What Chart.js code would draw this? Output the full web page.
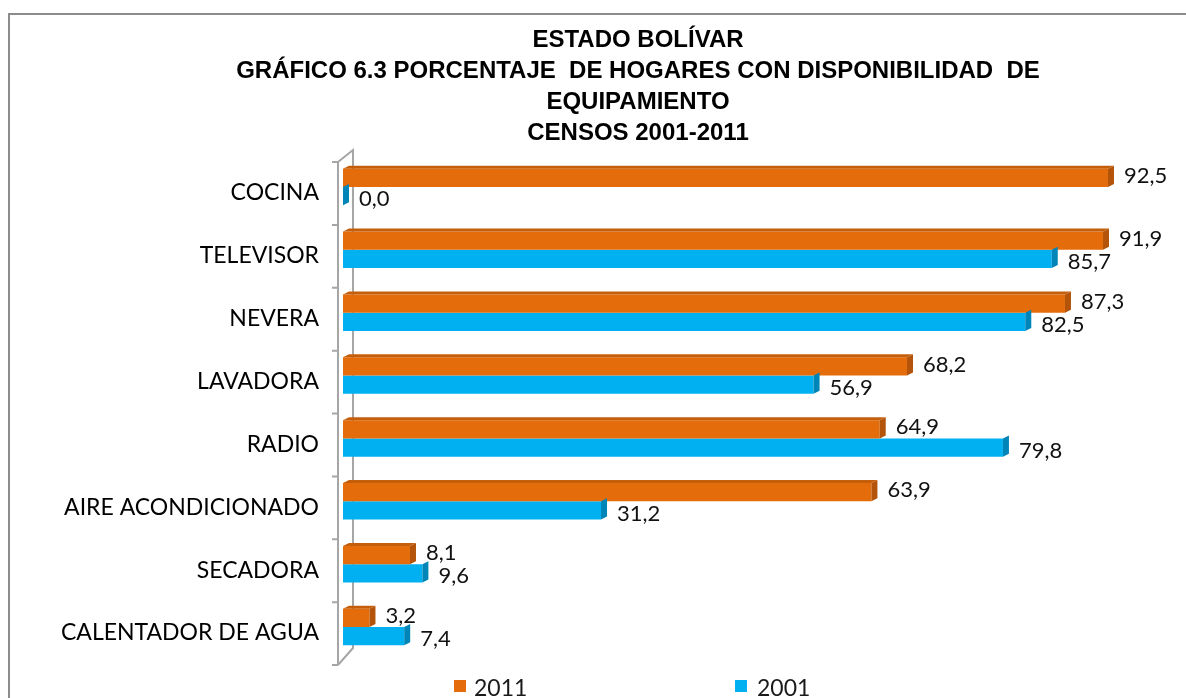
<!DOCTYPE html>
<html>
<head>
<meta charset="utf-8">
<script src="https://cdn.jsdelivr.net/npm/chart.js@4.4.1/dist/chart.umd.min.js"></script>
<style>
  html, body { margin: 0; padding: 0; background: #fff; overflow: hidden; }
  #marco { position: absolute; left: 8px; top: 13px; width: 1400px; height: 900px;
           border-top: 2px solid #8c8c8c; border-left: 2px solid #8c8c8c; }
  #grafico { position: absolute; left: 0; top: 0; }
  #titulo { position: absolute; left: 0; top: 23px; width: 1276px; text-align: center;
            font-family: 'Liberation Sans', Arial, sans-serif; font-weight: bold; font-size: 24px;
            line-height: 31px; color: #000; white-space: pre; }
  .leyenda { position: absolute; top: 672px; font-family: Lato, sans-serif; font-size: 23px;
             line-height: 30px; color: #1a1a1a; white-space: nowrap; }
  .cuadro { position: absolute; width: 12px; height: 12px; top: 680px; }
</style>
</head>
<body>
<div id="marco"></div>
<canvas id="grafico" width="1186" height="698"></canvas>
<div id="titulo"></div>
<div class="cuadro" style="left:454px;background:#E46C0A"></div>
<div class="leyenda" style="left:474px">2011</div>
<div class="cuadro" style="left:735px;background:#00B0F0"></div>
<div class="leyenda" style="left:757px">2001</div>
<script>
// datos del grafico 6.3
const categorias = ['COCINA', 'TELEVISOR', 'NEVERA', 'LAVADORA', 'RADIO',
  'AIRE ACONDICIONADO', 'SECADORA', 'CALENTADOR DE AGUA'];
const censo2011 = [92.5, 91.9, 87.3, 68.2, 64.9, 63.9, 8.1, 3.2];
const censo2001 = [0.0, 85.7, 82.5, 56.9, 79.8, 31.2, 9.6, 7.4];
const titulo = ['ESTADO BOLÍVAR',
  'GRÁFICO 6.3 PORCENTAJE  DE HOGARES CON DISPONIBILIDAD  DE',
  'EQUIPAMIENTO',
  'CENSOS 2001-2011'];

document.getElementById('titulo').textContent = titulo.join('\n');

const colores = { naranja: '#E46C0A', naranjaLado: '#B4540A', azul: '#00B0F0', azulLado: '#0085B8' };

// pared lateral y caras 3D de las barras
const efecto3D = {
  id: 'efecto3D',
  beforeDatasetsDraw(chart) {
    const { ctx, chartArea: a } = chart;
    const n = categorias.length;
    const alto = (a.bottom - a.top) / n;
    ctx.save();
    ctx.strokeStyle = '#a6a6a6';
    ctx.lineWidth = 2;
    ctx.beginPath();
    ctx.moveTo(a.left - 5, a.bottom + 6.5);
    ctx.lineTo(a.left - 5, a.top + 6.5);
    ctx.lineTo(a.left + 10, a.top - 5.5);
    ctx.lineTo(a.left + 10, a.bottom - 10.5);
    ctx.lineTo(a.left - 5, a.bottom + 6.5);
    for (let i = 0; i <= n; i++) {
      const y = a.top + 6.5 + i * alto;
      ctx.moveTo(a.left - 11, y);
      ctx.lineTo(a.left - 5, y);
    }
    ctx.stroke();
    ctx.restore();
  },
  afterDatasetsDraw(chart) {
    const ctx = chart.ctx;
    const prof = 6, sube = 3;
    ctx.save();
    [1, 0].forEach(d => {
      const meta = chart.getDatasetMeta(d);
      const lado = d === 0 ? colores.naranjaLado : colores.azulLado;
      meta.data.forEach(bar => {
        const top = bar.y - bar.height / 2, bottom = bar.y + bar.height / 2;
        ctx.fillStyle = lado;
        ctx.beginPath();
        ctx.moveTo(bar.x, top);
        ctx.lineTo(bar.x + prof, top - sube);
        ctx.lineTo(bar.x + prof, bottom - sube);
        ctx.lineTo(bar.x, bottom);
        ctx.closePath();
        ctx.fill();
        if (d === 0) {
          ctx.fillStyle = '#C45E0A';
          ctx.beginPath();
          ctx.moveTo(bar.base, top);
          ctx.lineTo(bar.base + prof, top - sube);
          ctx.lineTo(bar.x + prof, top - sube);
          ctx.lineTo(bar.x, top);
          ctx.closePath();
          ctx.fill();
        }
      });
    });
    // etiquetas de valor
    ctx.fillStyle = '#111';
    ctx.font = '22px Lato';
    ctx.textAlign = 'left';
    ctx.textBaseline = 'middle';
    [0, 1].forEach(d => {
      const meta = chart.getDatasetMeta(d);
      const valores = chart.data.datasets[d].data;
      meta.data.forEach((bar, i) => {
        const txt = valores[i].toFixed(1).replace('.', ',');
        ctx.fillText(txt, bar.x + 16, bar.y + (d === 0 ? -2 : 3));
      });
    });
    ctx.restore();
  }
};

new Chart(document.getElementById('grafico'), {
  type: 'bar',
  data: {
    labels: categorias,
    datasets: [
      { label: '2011', data: censo2011, backgroundColor: colores.naranja },
      { label: '2001', data: censo2001, backgroundColor: colores.azul }
    ]
  },
  options: {
    indexAxis: 'y',
    responsive: false,
    animation: false,
    categoryPercentage: 0.58,
    barPercentage: 1,
    layout: { padding: { left: 0, right: 16, top: 155.5, bottom: 39.5 } },
    plugins: {
      legend: { display: false },
      tooltip: { enabled: false },
      title: { display: false }
    },
    scales: {
      x: { display: false, min: 0, max: 100 },
      y: {
        grid: { display: false },
        border: { display: false },
        afterFit(scale) { scale.width = 343; },
        ticks: { color: '#000', padding: 16, labelOffset: 6, font: { family: 'Lato', size: 23 } }
      }
    }
  },
  plugins: [efecto3D]
});
</script>
</body>
</html>
